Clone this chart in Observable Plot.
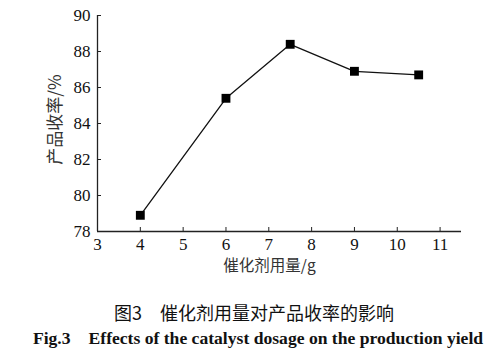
<!DOCTYPE html>
<html>
<head>
<meta charset="utf-8">
<script src="https://cdn.jsdelivr.net/npm/d3@7"></script>
<script src="https://cdn.jsdelivr.net/npm/@observablehq/plot@0.6"></script>
<style>
  html, body { margin: 0; padding: 0; background: #fff; }
  #wrap { width: 500px; height: 352px; position: relative; overflow: hidden; }
  .cap1 { position: absolute; left: 0; width: 508px; top: 300px; text-align: center;
          font-family: "Noto Sans CJK SC", sans-serif; font-size: 18px; color: #111; line-height: 24px; white-space: nowrap; }
  .cap2 { position: absolute; left: 0; width: 516px; top: 326px; text-align: center;
          font-family: "Liberation Serif", "Times New Roman", serif; font-weight: bold; font-size: 17.6px; color: #111; line-height: 24px; white-space: nowrap; }
</style>
</head>
<body>
<div id="wrap">
  <div id="chart"></div>
  <div class="cap1">图3　催化剂用量对产品收率的影响</div>
  <div class="cap2">Fig.3　Effects of the catalyst dosage on the production yield</div>
</div>
<script>
// Data
const dosage = [4, 6, 7.5, 9, 10.5];          // 催化剂用量/g
const yieldPct = [78.9, 85.4, 88.4, 86.9, 86.7]; // 产品收率/%
const xTicks = [3, 4, 5, 6, 7, 8, 9, 10, 11];
const yTicks = [78, 80, 82, 84, 86, 88, 90];
const xLabel = "催化剂用量/g";
const yLabel = "产品收率/%";

const data = dosage.map((d, i) => ({x: d, y: yieldPct[i]}));

const serif = '"Liberation Serif", "Times New Roman", "Noto Sans CJK SC", serif';

const chart = Plot.plot({
  width: 500,
  height: 285,
  marginLeft: 97,
  marginRight: 39,
  marginTop: 15,
  marginBottom: 54,
  style: {fontFamily: serif, fontSize: "17px", color: "#111", background: "#fff"},
  x: {domain: [3, 11.5], label: null},
  y: {domain: [78, 90], label: null},
  marks: [
    Plot.ruleX([3], {stroke: "#222", strokeWidth: 1.3}),
    Plot.ruleY([78], {stroke: "#222", strokeWidth: 1.3}),
    Plot.axisX({ticks: xTicks, tickSize: -4, tickPadding: 10, tickFormat: d => String(d), fontSize: 17, stroke: "#222"}),
    Plot.axisY({ticks: yTicks, tickSize: -4, tickPadding: 11, tickFormat: d => String(d), fontSize: 17, stroke: "#222"}),
    Plot.line(data, {x: "x", y: "y", stroke: "#111", strokeWidth: 1.3}),
    Plot.dot(data, {x: "x", y: "y", symbol: "square", r: 5, fill: "#000", stroke: "none"}),
    Plot.text([xLabel], {frameAnchor: "bottom", dy: 39, dx: -10, fontSize: 15.5, fill: "#333",
      fontFamily: '"Noto Sans CJK SC", sans-serif'}),
    Plot.text([yLabel], {frameAnchor: "left", dx: -42, dy: -4, rotate: -90, textAnchor: "middle", fontSize: 17, fill: "#333",
      fontFamily: '"Noto Sans CJK SC", sans-serif'})
  ]
});
document.getElementById("chart").appendChild(chart);
</script>
</body>
</html>
